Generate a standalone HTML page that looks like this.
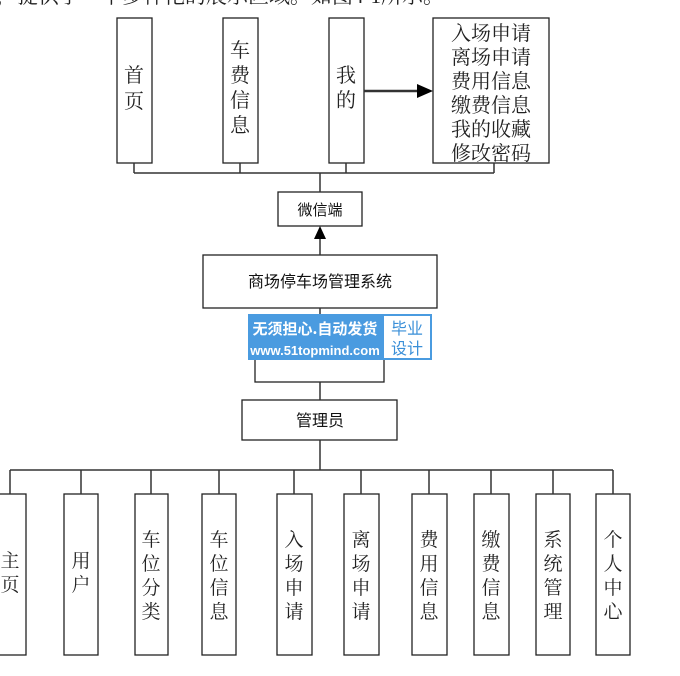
<!DOCTYPE html>
<html><head><meta charset="utf-8"><style>
body{margin:0;background:#fff;width:680px;height:676px;overflow:hidden;position:relative}
svg{position:absolute;left:0;top:0}
.s{font-family:"Liberation Serif","Noto Serif CJK SC",serif;font-size:20px;fill:#222}
.n{font-family:"Liberation Sans","Noto Sans CJK SC",sans-serif;font-size:15px;fill:#111}
</style></head><body>
<svg width="680" height="676" viewBox="0 0 680 676">
<text x="-4" y="3" class="s" style="font-size:21px">，提供了一个多样化的展示区域。如图4-1所示。</text>
<g fill="#fff" stroke="#222" stroke-width="1.3">
<rect x="117" y="18" width="35" height="145"/>
<rect x="223" y="18" width="35" height="145"/>
<rect x="329" y="18" width="35" height="145"/>
<rect x="433" y="18" width="116" height="145"/>
<rect x="278" y="192" width="84" height="34"/>
<rect x="203" y="255" width="234" height="53"/>
<rect x="255" y="330" width="129" height="52"/>
<rect x="242" y="400" width="155" height="40"/>
<rect x="-5" y="494" width="31" height="161"/>
<rect x="64" y="494" width="34" height="161"/>
<rect x="135" y="494" width="33" height="161"/>
<rect x="202" y="494" width="34" height="161"/>
<rect x="277" y="494" width="35" height="161"/>
<rect x="344" y="494" width="35" height="161"/>
<rect x="412" y="494" width="35" height="161"/>
<rect x="474" y="494" width="35" height="161"/>
<rect x="536" y="494" width="34" height="161"/>
<rect x="596" y="494" width="34" height="161"/>
</g>
<g stroke="#333" stroke-width="1.5" fill="none">
<path d="M134 163V173M240 163V173M346 163V173M494 163V173M134 173H494M320 173V192"/>
<path d="M320 255V236"/>
<path d="M320 308V330M320 382V400M320 440V470M10 470H613"/>
<path d="M10 470V494M81 470V494M151 470V494M219 470V494M294 470V494M361 470V494M429 470V494M491 470V494M553 470V494M613 470V494"/>
<path d="M364 91H418" stroke-width="2.5"/>
</g>
<path d="M320 226L314 239H326Z" fill="#000"/>
<path d="M433 91L417 84V98Z" fill="#000"/>
<g class="s">
<text x="124" y="82">首</text><text x="124" y="108">页</text>
<text x="230" y="57">车</text><text x="230" y="82">费</text><text x="230" y="107">信</text><text x="230" y="132">息</text>
<text x="336" y="82">我</text><text x="336" y="107">的</text>
<g text-anchor="middle"><text x="491" y="40">入场申请</text><text x="491" y="64">离场申请</text><text x="491" y="88">费用信息</text><text x="491" y="112">缴费信息</text><text x="491" y="136">我的收藏</text><text x="491" y="160">修改密码</text></g>
</g>
<text x="320" y="215" class="n" text-anchor="middle">微信端</text>
<text x="320" y="287" class="n" text-anchor="middle" style="font-size:16px">商场停车场管理系统</text>
<text x="320" y="426" class="n" text-anchor="middle" style="font-size:16px">管理员</text>
<g class="s" text-anchor="middle" style="font-size:19px">
<text x="10" y="567">主</text><text x="10" y="591">页</text>
<text x="81" y="567">用</text><text x="81" y="591">户</text>
<text x="151" y="546">车</text><text x="151" y="570">位</text><text x="151" y="594">分</text><text x="151" y="618">类</text>
<text x="219" y="546">车</text><text x="219" y="570">位</text><text x="219" y="594">信</text><text x="219" y="618">息</text>
<text x="294" y="546">入</text><text x="294" y="570">场</text><text x="294" y="594">申</text><text x="294" y="618">请</text>
<text x="361" y="546">离</text><text x="361" y="570">场</text><text x="361" y="594">申</text><text x="361" y="618">请</text>
<text x="429" y="546">费</text><text x="429" y="570">用</text><text x="429" y="594">信</text><text x="429" y="618">息</text>
<text x="491" y="546">缴</text><text x="491" y="570">费</text><text x="491" y="594">信</text><text x="491" y="618">息</text>
<text x="553" y="546">系</text><text x="553" y="570">统</text><text x="553" y="594">管</text><text x="553" y="618">理</text>
<text x="613" y="546">个</text><text x="613" y="570">人</text><text x="613" y="594">中</text><text x="613" y="618">心</text>
</g>
<rect x="248" y="314" width="184" height="46" fill="#4a9be0"/>
<rect x="384" y="316" width="46" height="42" fill="#fff"/>
<text x="315" y="334" text-anchor="middle" style="font-family:'Noto Sans CJK SC',sans-serif;font-size:15px;font-weight:bold;fill:#fff">无须担心.自动发货</text>
<text x="315" y="355" text-anchor="middle" style="font-family:'Liberation Sans',sans-serif;font-size:13px;font-weight:bold;fill:#fff">www.51topmind.com</text>
<text x="407" y="334" text-anchor="middle" style="font-family:'Noto Sans CJK SC',sans-serif;font-size:16px;fill:#3a8fd8">毕业</text>
<text x="407" y="354" text-anchor="middle" style="font-family:'Noto Sans CJK SC',sans-serif;font-size:16px;fill:#3a8fd8">设计</text>
</svg>
</body></html>
